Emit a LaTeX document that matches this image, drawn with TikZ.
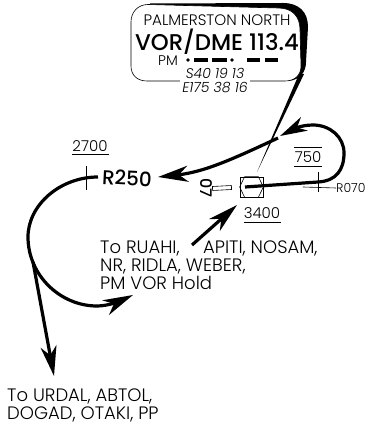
\documentclass[tikz,border=0pt]{standalone}
\usepackage{fontspec}
\setmainfont{Poppins}[UprightFont=* Light, ItalicFont=* Light Italic, BoldFont=* Medium]
\usetikzlibrary{arrows.meta}
\tikzset{
    x=1pt, y=-1pt,
    every node/.style={inner sep=0pt}, % all labels sit tight on their anchor
    route/.style={line width=3.2pt, -{Stealth[length=30pt, width=16pt, inset=9pt]}}, % the heavy tracks
    routeplain/.style={line width=3.2pt},
    tickline/.style={line width=0.6pt},
    small/.style={font=\fontsize{18}{18}\selectfont, align=left},
    alt/.style={font=\fontsize{15}{16}\selectfont},
    radial/.style={font=\fontsize{20}{22}\selectfont\bfseries},
    morse/.style={line width=3.2pt},
}

\begin{document}
\begin{tikzpicture}
    \useasboundingbox (0,0) rectangle (366,422);
    % leader
    \coordinate (leadl) at (299,74);
    \coordinate (leadr) at (304,74);
    \coordinate (leadend) at (257,172);
    \fill (leadl) -- (leadr) -- (leadend) -- cycle;
    % callout box
    \fill (150,3.5) -- (283,3) .. controls (299,3) and (308,12) .. (308,27) -- (306,62) .. controls (306,72) and (300,80) .. (288,81) -- (150,81) -- cycle;
    \filldraw[fill=white, line width=0.6pt] (148,4.5) -- (278,8) .. controls (292,8) and (300,16) .. (300,30) -- (301,66) .. controls (301,75) and (295,81) .. (285,81) -- (147,81) .. controls (137,81) and (131,75) .. (131,66) -- (131,22) .. controls (131,12) and (138,4.5) .. (148,4.5) -- cycle;
    \node[font=\fontsize{15.2}{17}\selectfont] (name) at (217,20) {PALMERSTON NORTH};
    \node[font=\fontsize{22.8}{25}\selectfont\bfseries, text depth=0pt] (freq) at (217,39.5) {VOR/DME 113.4};
    \node[font=\fontsize{14}{16}\selectfont] (ident) at (168,61) {PM};
    \fill (188,60) circle (1.8pt);
    \draw[morse] (194,60) -- (208,60) (212,60) -- (227,60) (247,60) -- (260,60) (265,60) -- (278,60);
    \fill (232,60) circle (1.8pt);
    \node[fill=white, inner sep=2pt, align=center, font=\fontsize{14}{14.5}\itshape\selectfont] (position) at (215,80.5) {S40 19 13\\E175 38 16};
    % station
    \node[draw, line width=0.7pt, minimum width=23pt, minimum height=20pt] (vor) at (251.5,187) {};
    \draw[line width=0.6pt] (vor.west) -- ([xshift=5pt]vor.north west) -- ([xshift=-5pt]vor.north east) -- (vor.east) -- ([xshift=-5pt]vor.south east) -- ([xshift=5pt]vor.south west) -- cycle;
    \node[draw, line width=0.6pt, minimum width=19pt, minimum height=4pt, rotate=3] (course) at (222,188) {};
    \node[font=\fontsize{16}{18}\selectfont\bfseries, rotate=-90] (seven) at (206,188) {07};
    % holding side
    \coordinate (outa) at (245,187);
    \coordinate (outb) at (318,182);
    \coordinate (outc) at (344,153);
    \coordinate (outd) at (313,125);
    \coordinate (oute) at (280,136);
    \draw[routeplain] (outa) -- (outb) .. controls (336,181) and (344,170) .. (outc);
    \draw[route, -{Stealth[length=27pt, width=15pt, inset=8pt]}] (outc) .. controls (344,137) and (330,125) .. (outd) .. controls (300,125) and (292,130) .. (oute);
    \coordinate (backa) at (278,138);
    \coordinate (backb) at (158,177);
    \draw[route] (backa) .. controls (235,158) and (205,172) .. (backb);
    \draw[tickline] (318,172) -- (318,192);
    \coordinate (tickl) at (303,187);
    \node[anchor=west, font=\fontsize{12.5}{14}\selectfont] (r070) at (336,188) {R070};
    \draw[tickline] (tickl) -- (r070.west);
    \node[alt] (a750) at (308,157) {750};
    \draw[line width=0.9pt] (294,147) -- (322,147) (294,166) -- (322,166);
    \node[alt] (a3400) at (262,213) {3400};
    \draw[line width=0.9pt] (244,222) -- (281,222);
    % outbound
    \node[alt] (a2700) at (90,146) {2700};
    \draw[line width=0.9pt] (72,154) -- (109,154);
    \node[radial, rotate=-3] (r250) at (127,178) {R250};
    \coordinate (fixa) at (98,177);
    \coordinate (fixb) at (28,237);
    \coordinate (fixc) at (97,306);
    \coordinate (fixd) at (133,295);
    \draw[tickline] (86,166) -- (86,190);
    \draw[routeplain] (fixa) .. controls (60,177) and (28,205) .. (fixb) .. controls (28,275) and (60,306) .. (fixc);
    \draw[route] (fixc) .. controls (108,306) and (120,301) .. (fixd);
    \coordinate (spliti) at (33,262);
    \coordinate (splitt) at (54,376);
    \draw[route] (spliti) -- (splitt);
    \coordinate (inbs) at (192,245);
    \coordinate (inbt) at (237,205);
    \draw[route] (inbs) -- (inbt);
    % routes text
    \node[small, anchor=north west] (ruahi) at (100,240.5) {To RUAHI,\\NR, RIDLA, WEBER,\\PM VOR Hold};
    \node[small, anchor=north west] (apiti) at (203,240.5) {APITI, NOSAM,};
    \node[small, anchor=north west] (urdal) at (7,389) {To URDAL, ABTOL,\\DOGAD, OTAKI, PP};
\end{tikzpicture}
\end{document}
